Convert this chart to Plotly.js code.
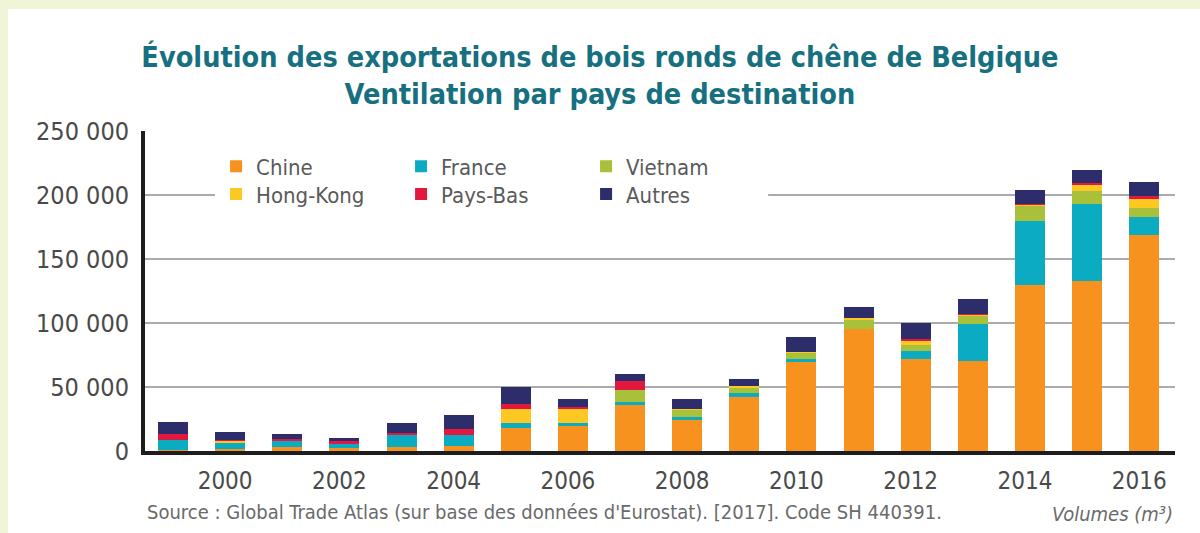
<!DOCTYPE html>
<html>
<head>
<meta charset="utf-8">
<script src="https://cdn.plot.ly/plotly-3.0.1.min.js"></script>
<style>
  html, body { margin: 0; padding: 0; background: #f1f5d7; width: 1200px; height: 533px; overflow: hidden; }
  #chart { position: absolute; left: 8px; top: 9px; width: 1192px; height: 524px; }
</style>
</head>
<body>
<div id="chart"></div>
<script>
const years = [1999, 2000, 2001, 2002, 2003, 2004, 2005, 2006, 2007, 2008, 2009, 2010, 2011, 2012, 2013, 2014, 2015, 2016];
const chine    = [1000, 1200, 3000, 2100, 3100, 3900, 18200, 19500, 35900, 24200, 42200, 69800, 95000, 71600, 70300, 129400, 132800, 168800];
const france   = [7800, 5000, 4500, 3100, 9100, 8300, 3900, 2100, 2600, 2300, 2900, 2300, 0, 6500, 28600, 50300, 59900, 14100];
const vietnam  = [0, 0, 0, 0, 0, 0, 0, 0, 9400, 5500, 3900, 4400, 7300, 4700, 6200, 11500, 10400, 7300];
const hongkong = [0, 1300, 0, 0, 0, 0, 10400, 10900, 0, 1000, 1800, 1000, 1800, 2900, 800, 800, 4700, 6500];
const paysbas  = [4400, 1000, 2000, 2600, 2000, 4700, 3900, 1800, 6800, 0, 0, 0, 0, 1600, 800, 1300, 1800, 2600];
const autres   = [9400, 6500, 3600, 2600, 7800, 11200, 13500, 6000, 5200, 7300, 5200, 11500, 8600, 12500, 11700, 10400, 9600, 10900];

const xTickVals = [2000, 2002, 2004, 2006, 2008, 2010, 2012, 2014, 2016];
const xTickText = ['2000', '2002', '2004', '2006', '2008', '2010', '2012', '2014', '2016'];
const yTickVals = [0, 50000, 100000, 150000, 200000, 250000];
const yTickText = ['0', '50 000', '100 000', '150 000', '200 000', '250 000'];

const FONT = 'DejaVu Sans Condensed, DejaVu Sans, sans-serif';

function bar(name, y, color, legend) {
  return { type: 'bar', name: name, x: years, y: y, width: 0.525,
           marker: { color: color, line: { width: 0 } }, legend: legend, hoverinfo: 'x+y+name' };
}

const data = [
  bar('Chine', chine, '#F7921E', 'legend'),
  bar('France', france, '#0BACC1', 'legend'),
  bar('Vietnam', vietnam, '#A9C03A', 'legend'),
  bar('Hong-Kong', hongkong, '#FEC823', 'legend2'),
  bar('Pays-Bas', paysbas, '#E3183F', 'legend2'),
  bar('Autres', autres, '#2E2D6B', 'legend2')
];

const legendCommon = {
  orientation: 'h', traceorder: 'normal', entrywidth: 140, entrywidthmode: 'pixels',
  bgcolor: 'rgba(0,0,0,0)', borderwidth: 0, xref: 'paper', yref: 'paper', xanchor: 'left', yanchor: 'top',
  font: { family: FONT, size: 22, color: '#5a5a5a' }, itemclick: false
};

const layout = {
  width: 1192, height: 524,
  paper_bgcolor: '#ffffff', plot_bgcolor: '#ffffff',
  margin: { l: 137, r: 25, t: 122, b: 82 },
  barmode: 'stack', bargap: 0,
  title: {
    text: 'Évolution des exportations de bois ronds de chêne de Belgique<br>Ventilation par pays de destination',
    font: { family: FONT, size: 28.6, color: '#17707F', weight: 'bold' },
    x: 0.4966, xanchor: 'center', xref: 'container',
    y: 0.890, yanchor: 'top', yref: 'container'
  },
  xaxis: {
    range: [1998.51, 2016.54], tickvals: xTickVals, ticktext: xTickText,
    showline: true, linecolor: '#1d1d1d', linewidth: 4, showgrid: false, zeroline: false,
    ticks: '', ticklabelstandoff: 5, ticklabelshift: -5,
    tickfont: { family: FONT, size: 24, color: '#4a4a4a' }
  },
  yaxis: {
    range: [0, 250000], tickvals: yTickVals, ticktext: yTickText,
    showline: true, linecolor: '#1d1d1d', linewidth: 4, zeroline: false,
    showgrid: true, gridcolor: '#ababab', gridwidth: 2.5,
    ticks: '', ticklabelstandoff: 7,
    tickfont: { family: FONT, size: 25, color: '#4a4a4a' }
  },
  legend: Object.assign({}, legendCommon, { x: 0.069, y: 0.955 }),
  legend2: Object.assign({}, legendCommon, { x: 0.069, y: 0.868 }),
  shapes: [
    { type: 'rect', xref: 'paper', yref: 'paper', x0: 0.068, x1: 0.605, y0: 0.755, y1: 0.94,
      fillcolor: '#ffffff', line: { width: 0 }, layer: 'above' }
  ],
  annotations: [
    { text: "Source : Global Trade Atlas (sur base des données d'Eurostat). [2017]. Code SH 440391.",
      xref: 'paper', yref: 'paper', x: 0, y: -0.19, xanchor: 'left', yanchor: 'middle', showarrow: false,
      font: { family: FONT, size: 20, color: '#6a6a6a' } },
    { text: 'Volumes (m³)',
      xref: 'paper', yref: 'paper', x: 1, y: -0.196, xanchor: 'right', yanchor: 'middle', showarrow: false,
      font: { family: FONT, size: 20, color: '#6a6a6a', style: 'italic' } }
  ],
  showlegend: true
};

Plotly.newPlot('chart', data, layout, { displayModeBar: false, staticPlot: true });
</script>
</body>
</html>
